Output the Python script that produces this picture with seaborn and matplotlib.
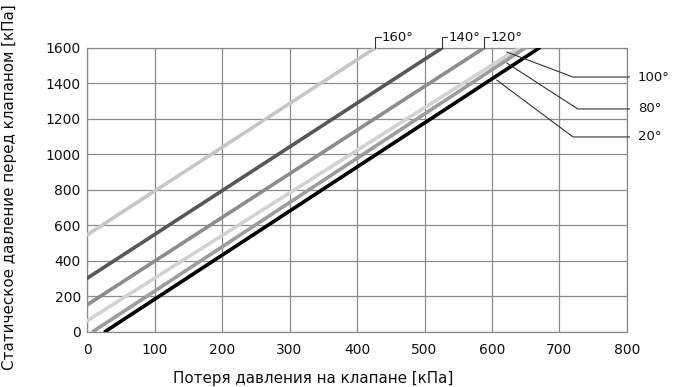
import matplotlib
matplotlib.use("Agg")
import matplotlib.pyplot as plt
import seaborn as sns
import pandas as pd

# Data: each temperature line defined by start and end points (kPa)
labels = ["160°", "140°", "120°", "100°", "80°", "20°"]
x_start = [0, 0, 0, 0, 9, 27]
y_start = [545, 300, 150, 60, 0, 0]
x_end = [427, 526, 588, 640, 649, 670]
y_end = [1600, 1600, 1600, 1600, 1600, 1600]
colors = ["#c6c6c6", "#575757", "#8c8c8c", "#d2d2d2", "#9c9c9c", "#000000"]

x_ticks = [0, 100, 200, 300, 400, 500, 600, 700, 800]
y_ticks = [0, 200, 400, 600, 800, 1000, 1200, 1400, 1600]

rows = []
for lab, xs, ys, xe, ye in zip(labels, x_start, y_start, x_end, y_end):
    rows.append({"T": lab, "x": xs, "y": ys})
    rows.append({"T": lab, "x": xe, "y": ye})
df = pd.DataFrame(rows)

sns.set_style("white")
plt.rcParams["font.family"] = ["DejaVu Sans"]

fig = plt.figure(figsize=(6.83, 3.87), dpi=100)
ax = fig.add_axes([0.1274, 0.1434, 0.7906, 0.7326])

sns.lineplot(data=df, x="x", y="y", hue="T", hue_order=labels,
             palette=dict(zip(labels, colors)), linewidth=2.6,
             legend=False, ax=ax, zorder=3)

ax.set_xlim(0, 800)
ax.set_ylim(0, 1600)
ax.set_xticks(x_ticks)
ax.set_yticks(y_ticks)
ax.grid(True, color="#8a8a8a", linewidth=0.9, zorder=0)
for s in ax.spines.values():
    s.set_color("#8a8a8a")
    s.set_linewidth(0.9)
ax.tick_params(length=0, labelsize=10, colors="#111111")
ax.tick_params(axis="x", pad=8)
ax.tick_params(axis="y", pad=4.5)
ax.set_xlabel("")
ax.set_ylabel("")

# Top labels with bracket leaders
top_items = [("160°", 427), ("140°", 526), ("120°", 588)]
for lab, xe in top_items:
    ax.plot([xe, xe, xe + 8], [1600, 1662, 1662], color="#333333",
            linewidth=0.8, clip_on=False, zorder=4)
    ax.text(xe + 10, 1662, lab, fontsize=9.5, va="center", ha="left",
            color="#111111", clip_on=False)

# Right labels with leader lines
right_items = [("100°", (622, 1577), (720, 1436)),
               ("80°", (622, 1515), (727, 1256)),
               ("20°", (607, 1419), (720, 1098))]
for lab, p0, p1 in right_items:
    ax.plot([p0[0], p1[0], 804], [p0[1], p1[1], p1[1]], color="#333333",
            linewidth=0.8, clip_on=False, zorder=4)
    ax.text(816, p1[1], lab, fontsize=9.5, va="center", ha="left",
            color="#111111", clip_on=False)

fig.text(313 / 683, 1 - 378 / 387, "Потеря давления на клапане [кПа]",
         ha="center", va="center", fontsize=10.9, color="#111111")
fig.text(10 / 683, 1 - 187 / 387, "Статическое давление перед клапаном [кПа]",
         ha="center", va="center", rotation=90, fontsize=10.9, color="#111111")

fig.savefig("out.png", dpi=100)
